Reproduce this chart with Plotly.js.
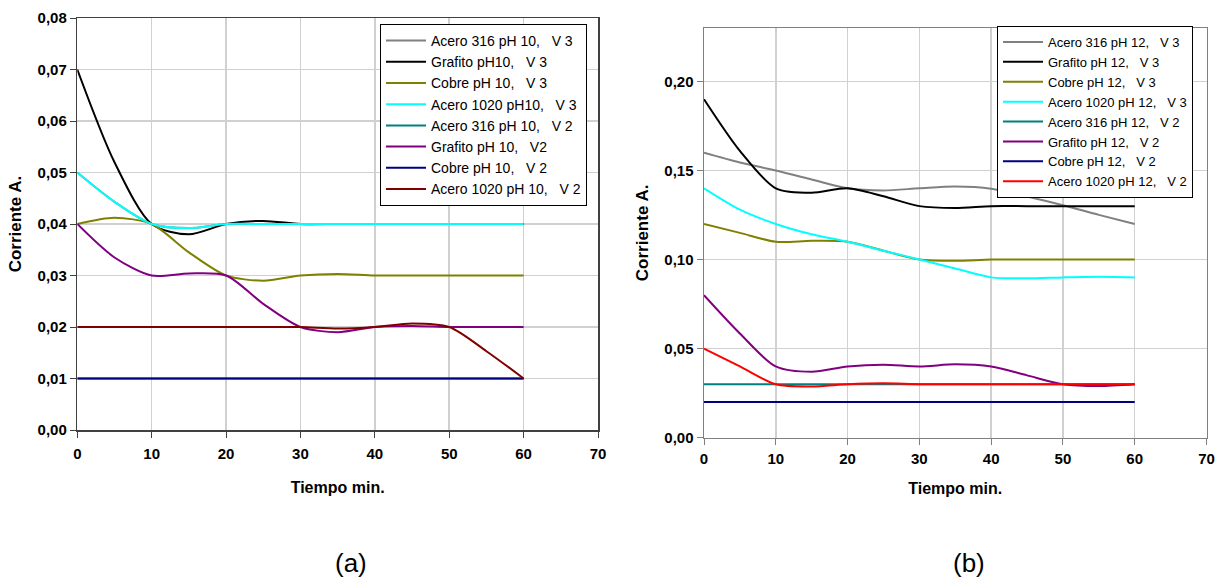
<!DOCTYPE html>
<html>
<head>
<meta charset="utf-8">
<script src="https://cdn.plot.ly/plotly-3.0.1.min.js"></script>
<style>html,body{margin:0;padding:0;background:#fff;}#chart{width:1224px;height:579px;}</style>
</head>
<body>
<div id="chart"></div>
<script>
// time (min)
const tiempo = [0, 5, 10, 15, 20, 25, 30, 35, 40, 45, 50, 55, 60];
const xTicks = [0, 10, 20, 30, 40, 50, 60, 70];

// (a) pH 10
const namesA = ['Acero 316 pH 10,   V 3', 'Grafito pH10,   V 3', 'Cobre pH 10,   V 3', 'Acero 1020 pH10,   V 3',
                'Acero 316 pH 10,   V 2', 'Grafito pH 10,   V2', 'Cobre pH 10,   V 2', 'Acero 1020 pH 10,   V 2'];
const acero316_v3_a  = [0.050, 0.0443, 0.040, 0.0392, 0.040, 0.040, 0.040, 0.040, 0.040, 0.040, 0.040, 0.040, 0.040];
const grafito_v3_a   = [0.070, 0.052, 0.040, 0.038, 0.040, 0.0406, 0.040, 0.040, 0.040, 0.040, 0.040, 0.040, 0.040];
const cobre_v3_a     = [0.040, 0.0412, 0.040, 0.0345, 0.030, 0.029, 0.030, 0.0303, 0.030, 0.030, 0.030, 0.030, 0.030];
const acero1020_v3_a = [0.050, 0.0443, 0.040, 0.0392, 0.040, 0.040, 0.040, 0.040, 0.040, 0.040, 0.040, 0.040, 0.040];
const acero316_v2_a  = [0.010, 0.010, 0.010, 0.010, 0.010, 0.010, 0.010, 0.010, 0.010, 0.010, 0.010, 0.010, 0.010];
const grafito_v2_a   = [0.040, 0.0335, 0.030, 0.0304, 0.030, 0.0245, 0.020, 0.019, 0.020, 0.0202, 0.020, 0.020, 0.020];
const cobre_v2_a     = [0.010, 0.010, 0.010, 0.010, 0.010, 0.010, 0.010, 0.010, 0.010, 0.010, 0.010, 0.010, 0.010];
const acero1020_v2_a = [0.020, 0.020, 0.020, 0.020, 0.020, 0.020, 0.020, 0.0197, 0.020, 0.0207, 0.020, 0.0153, 0.010];

// (b) pH 12
const namesB = ['Acero 316 pH 12,   V 3', 'Grafito pH 12,   V 3', 'Cobre pH 12,   V 3', 'Acero 1020 pH 12,   V 3',
                'Acero 316 pH 12,   V 2', 'Grafito pH 12,   V 2', 'Cobre pH 12,   V 2', 'Acero 1020 pH 12,   V 2'];
const acero316_v3_b  = [0.160, 0.1545, 0.150, 0.145, 0.140, 0.1388, 0.140, 0.141, 0.1398, 0.1354, 0.1305, 0.1251, 0.120];
const grafito_v3_b   = [0.190, 0.161, 0.140, 0.1375, 0.140, 0.1355, 0.130, 0.129, 0.130, 0.130, 0.130, 0.130, 0.130];
const cobre_v3_b     = [0.120, 0.115, 0.110, 0.1105, 0.110, 0.105, 0.100, 0.0993, 0.100, 0.100, 0.100, 0.100, 0.100];
const acero1020_v3_b = [0.140, 0.128, 0.120, 0.1142, 0.110, 0.105, 0.100, 0.095, 0.090, 0.0895, 0.090, 0.0903, 0.090];
const acero316_v2_b  = [0.030, 0.030, 0.030, 0.030, 0.030, 0.030, 0.030, 0.030, 0.030, 0.030, 0.030, 0.030, 0.030];
const grafito_v2_b   = [0.080, 0.0585, 0.040, 0.037, 0.040, 0.041, 0.040, 0.0412, 0.040, 0.035, 0.030, 0.029, 0.030];
const cobre_v2_b     = [0.020, 0.020, 0.020, 0.020, 0.020, 0.020, 0.020, 0.020, 0.020, 0.020, 0.020, 0.020, 0.020];
const acero1020_v2_b = [0.050, 0.040, 0.030, 0.0288, 0.030, 0.0305, 0.030, 0.030, 0.030, 0.030, 0.030, 0.030, 0.030];

const colorsA = ['#808080', '#000000', '#808000', '#00FFFF', '#008080', '#800080', '#000080', '#800000'];
const colorsB = ['#808080', '#000000', '#808000', '#00FFFF', '#008080', '#800080', '#000080', '#FF0000'];

const seriesA = [acero316_v3_a, grafito_v3_a, cobre_v3_a, acero1020_v3_a, acero316_v2_a, grafito_v2_a, cobre_v2_a, acero1020_v2_a];
const seriesB = [acero316_v3_b, grafito_v3_b, cobre_v3_b, acero1020_v3_b, acero316_v2_b, grafito_v2_b, cobre_v2_b, acero1020_v2_b];

const nb = s => s.replace(/ /g, '\u00a0');
const traces = [];
seriesA.forEach((ys, i) => traces.push({
  x: tiempo, y: ys, name: nb(namesA[i]), type: 'scatter', mode: 'lines',
  line: {color: colorsA[i], width: 2, shape: 'spline', smoothing: 0.8},
  xaxis: 'x', yaxis: 'y', legend: 'legend'
}));
seriesB.forEach((ys, i) => traces.push({
  x: tiempo, y: ys, name: nb(namesB[i]), type: 'scatter', mode: 'lines',
  line: {color: colorsB[i], width: 2, shape: 'spline', smoothing: 0.8},
  xaxis: 'x2', yaxis: 'y2', legend: 'legend2'
}));

const W = 1224, H = 579;
const FONT = 'Liberation Sans, Arial, sans-serif';
const tickFont = {family: FONT, size: 15, color: '#000', weight: 'bold'};
const xTitleFont = {family: FONT, size: 16, color: '#000', weight: 'bold'};
const yTitleFont = {family: FONT, size: 17, color: '#000', weight: 'bold'};

function xax(domain, lc, standoff, labelOff) {
  return {
    domain: domain, range: [0, 70], tickvals: xTicks, ticks: 'outside', ticklen: 6, tickcolor: lc,
    ticklabelstandoff: labelOff,
    showline: true, linecolor: lc, linewidth: 1.5, mirror: true, zeroline: false,
    showgrid: true, gridcolor: '#d0d0d0', gridwidth: 1.5,
    tickfont: tickFont, title: {text: 'Tiempo min.', font: xTitleFont, standoff: standoff},
    fixedrange: true
  };
}
function yax(domain, range, dtick, lc, anchor) {
  return {
    domain: domain, range: range, dtick: dtick, tick0: 0, tickformat: '.2f', ticks: 'outside', ticklen: 6, tickcolor: lc,
    showline: true, linecolor: lc, linewidth: 1.5, mirror: true, zeroline: false,
    showgrid: true, gridcolor: '#d0d0d0', gridwidth: 1.5, anchor: anchor,
    tickfont: tickFont, title: {text: 'Corriente A.', font: yTitleFont, standoff: 11},
    fixedrange: true
  };
}

const layout = {
  width: W, height: H,
  margin: {l: 0, r: 0, t: 0, b: 0},
  paper_bgcolor: '#fff', plot_bgcolor: '#fff',
  separators: ',.',
  showlegend: true,
  xaxis: Object.assign(xax([77.3 / W, 598 / W], '#404040', 21, 3), {anchor: 'y'}),
  yaxis: yax([1 - 430 / H, 1 - 18 / H], [0, 0.08], 0.01, '#404040', 'x'),
  xaxis2: Object.assign(xax([704 / W, 1206.5 / W], '#808080', 16, 1), {anchor: 'y2'}),
  yaxis2: yax([1 - 437.7 / H, 1 - 28 / H], [0, 0.23], 0.05, '#808080', 'x2'),
  legend: {
    x: 380 / W, y: 1 - 24 / H, xanchor: 'left', yanchor: 'top', itemwidth: 40,
    bgcolor: '#fff', bordercolor: '#000', borderwidth: 1,
    font: {family: FONT, size: 14, color: '#000'}, traceorder: 'normal'
  },
  legend2: {
    x: 997 / W, y: 1 - 26 / H, xanchor: 'left', yanchor: 'top', itemwidth: 40,
    bgcolor: '#fff', bordercolor: '#000', borderwidth: 1,
    font: {family: FONT, size: 13, color: '#000'}, traceorder: 'normal'
  },
  annotations: [
    {text: '(a)', x: 351 / W, y: 1 - 563 / H, xref: 'paper', yref: 'paper', showarrow: false,
     xanchor: 'center', yanchor: 'middle', font: {family: FONT, size: 26, color: '#000'}},
    {text: '(b)', x: 969 / W, y: 1 - 563 / H, xref: 'paper', yref: 'paper', showarrow: false,
     xanchor: 'center', yanchor: 'middle', font: {family: FONT, size: 26, color: '#000'}}
  ]
};

Plotly.newPlot('chart', traces, layout, {staticPlot: true, displayModeBar: false});
</script>
</body>
</html>
